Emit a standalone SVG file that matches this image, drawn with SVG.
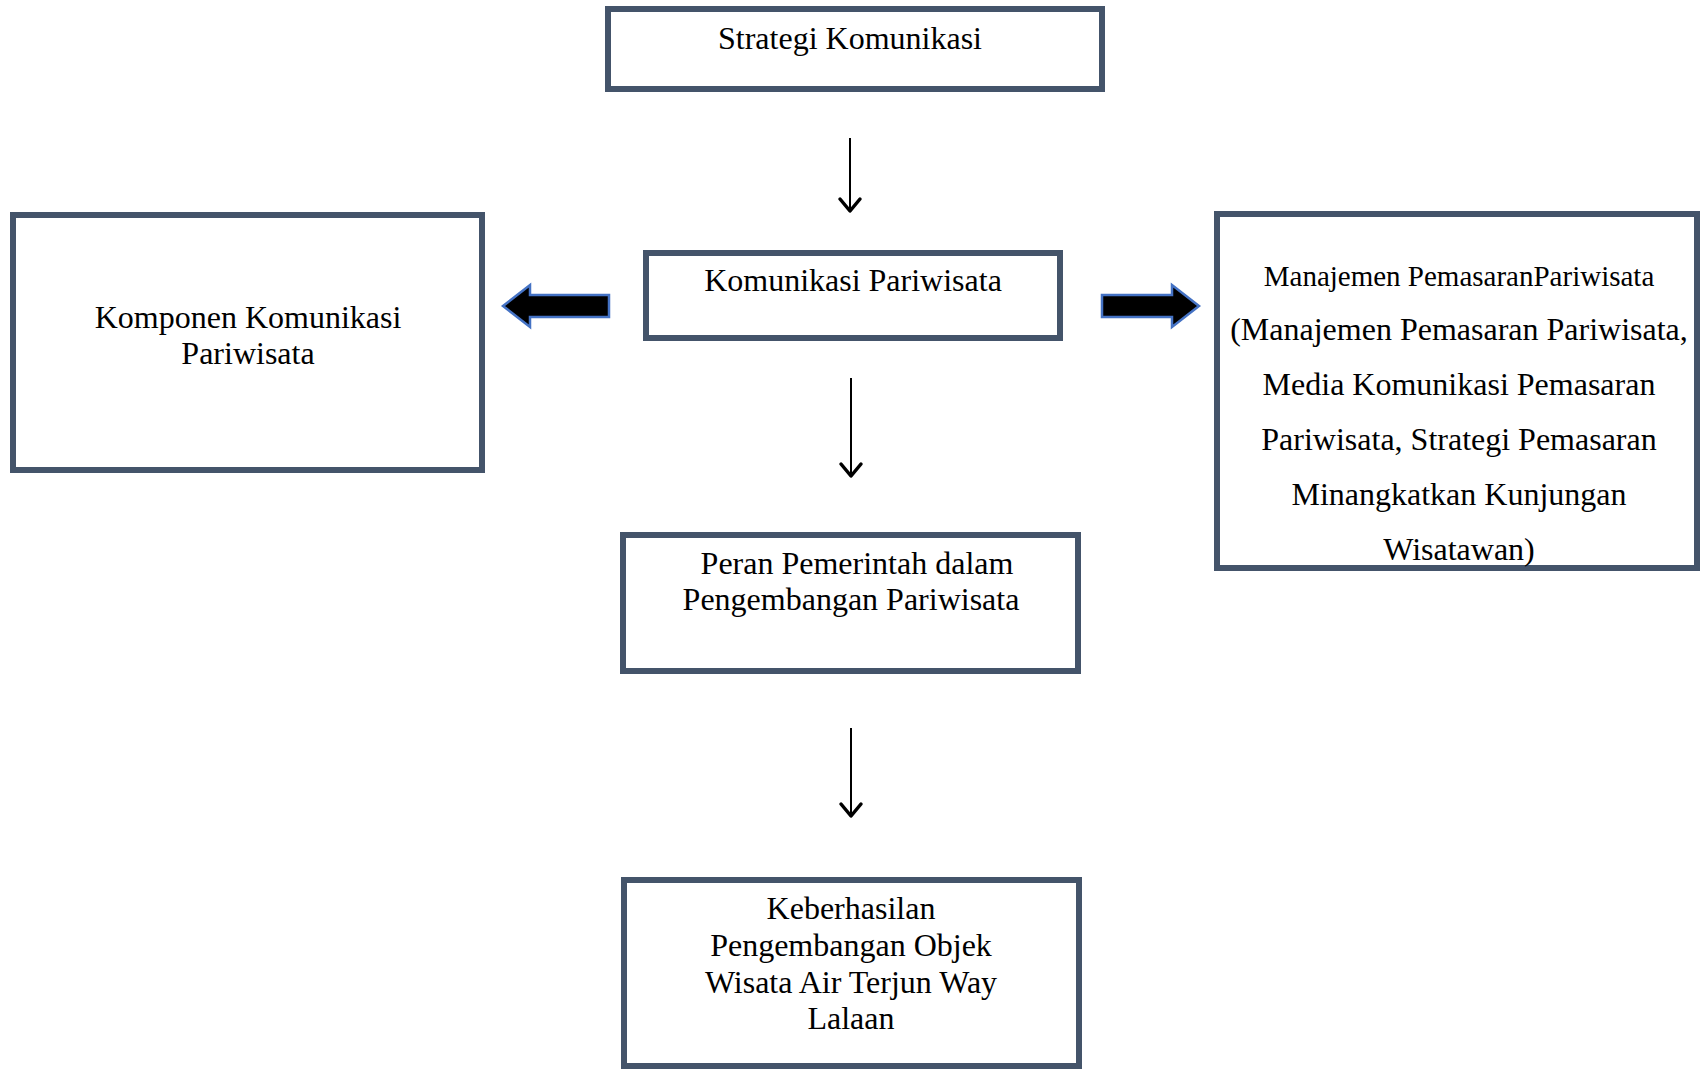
<svg xmlns="http://www.w3.org/2000/svg" width="1701" height="1069" viewBox="0 0 1701 1069">
<defs>
<style>
.box{fill:#ffffff;stroke:#44546A;stroke-width:6}
.t{font-family:"Liberation Serif","Times New Roman",serif;font-size:32px;fill:#000;text-anchor:middle}
.t2{font-size:29px}
.ln{stroke:#000;stroke-width:2;fill:none}
.hd{stroke:#000;stroke-width:3.5;fill:none;stroke-linecap:round;stroke-linejoin:round}
.blk{fill:#000;stroke:#4472C4;stroke-width:2.5;stroke-linejoin:miter}
</style>
</defs>
<rect x="0" y="0" width="1701" height="1069" fill="#fff"/>
<g id="node-strategi">
<rect class="box" x="608" y="9" width="494" height="80"/>
<text class="t" x="850" y="49">Strategi Komunikasi</text>
</g>
<g id="node-komunikasi">
<rect class="box" x="646" y="253" width="414" height="85"/>
<text class="t" x="853" y="291">Komunikasi Pariwisata</text>
</g>
<g id="node-komponen">
<rect class="box" x="13" y="215" width="469" height="255"/>
<text class="t" x="248" y="328">Komponen Komunikasi</text>
<text class="t" x="248" y="364">Pariwisata</text>
</g>
<g id="node-manajemen">
<rect class="box" x="1217" y="214" width="480" height="354"/>
<text class="t t2" x="1459" y="286">Manajemen PemasaranPariwisata</text>
<text class="t" x="1459" y="340">(Manajemen Pemasaran Pariwisata,</text>
<text class="t" x="1459" y="395">Media Komunikasi Pemasaran</text>
<text class="t" x="1459" y="450">Pariwisata, Strategi Pemasaran</text>
<text class="t" x="1459" y="505">Minangkatkan Kunjungan</text>
<text class="t" x="1459" y="560">Wisatawan)</text>
</g>
<g id="node-peran">
<rect class="box" x="623" y="535" width="455" height="136"/>
<text class="t" x="857" y="574">Peran Pemerintah dalam</text>
<text class="t" x="851" y="610">Pengembangan Pariwisata</text>
</g>
<g id="node-keberhasilan">
<rect class="box" x="624" y="880" width="455" height="186"/>
<text class="t" x="851" y="919">Keberhasilan</text>
<text class="t" x="851" y="956">Pengembangan Objek</text>
<text class="t" x="851" y="993">Wisata Air Terjun Way</text>
<text class="t" x="851" y="1029">Lalaan</text>
</g>
<g id="connectors">
<line class="ln" x1="850" y1="138" x2="850" y2="210"/>
<polyline class="hd" points="840,199 850,211 860,199"/>
<line class="ln" x1="851" y1="378" x2="851" y2="475"/>
<polyline class="hd" points="841,464 851,476 861,464"/>
<line class="ln" x1="851" y1="728" x2="851" y2="815"/>
<polyline class="hd" points="841,804 851,816 861,804"/>
<polygon class="blk" points="609,295 530,295 530,285 503,306 530,327 530,317 609,317"/>
<polygon class="blk" points="1102,295 1172,295 1172,285 1199,306 1172,327 1172,317 1102,317"/>
</g>
</svg>
